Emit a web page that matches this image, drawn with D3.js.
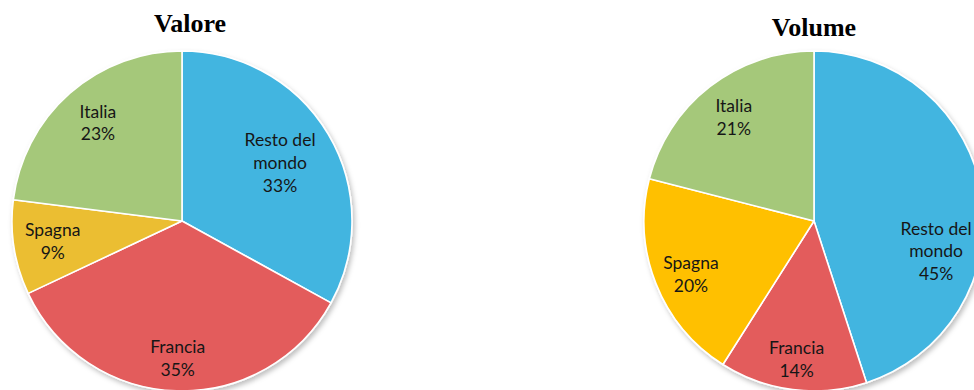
<!DOCTYPE html>
<html><head><meta charset="utf-8">
<script src="https://cdn.jsdelivr.net/npm/d3@7"></script>
<style>body{margin:0;background:#fff;}svg{display:block;}</style>
</head><body>
<svg id="chart" width="974" height="390"></svg>
<script>
// Data
const categories = ["Resto del mondo", "Francia", "Spagna", "Italia"];
const valoreValues = [33, 35, 9, 23];
const volumeValues = [45, 14, 20, 21];
const titles = ["Valore", "Volume"];

const colorsValore = ["#43B5E0", "#E35B5B", "#EBBE30", "#A5C87A"];
const colorsVolume = ["#43B5E0", "#E35B5B", "#FFC000", "#A5C87A"];

const svg = d3.select("#chart");
const defs = svg.append("defs");
const f = defs.append("filter").attr("id","sh").attr("x","-10%").attr("y","-10%").attr("width","130%").attr("height","130%");
f.append("feDropShadow").attr("dx",2).attr("dy",3).attr("stdDeviation",2.5).attr("flood-color","#000").attr("flood-opacity",0.25);

const R = 170;
const pies = [
  {cx:182, cy:221, values:valoreValues, colors:colorsValore, title:titles[0], tx:190, ty:32,
   lab:[{r:0.67,a:0},{r:0.81,a:0},{r:0.77,a:0},{r:0.76,a:0.8}]},
  {cx:814, cy:221, values:volumeValues, colors:colorsVolume, title:titles[1], tx:814, ty:36,
   lab:[{r:0.74,a:23},{r:0.82,a:0},{r:0.79,a:-2},{r:0.77,a:0}]}
];

const pie = d3.pie().sort(null).value(d => d);
const arc = d3.arc().innerRadius(0).outerRadius(R);

pies.forEach(p => {
  const g = svg.append("g").attr("transform", `translate(${p.cx},${p.cy})`);
  const arcs = pie(p.values);
  const sg = g.append("g").attr("filter","url(#sh)");
  sg.selectAll("path").data(arcs).enter().append("path")
    .attr("d", arc)
    .attr("fill", (d,i) => p.colors[i])
    .attr("stroke", "#fff").attr("stroke-width", 1.6).attr("stroke-linejoin","round");

  arcs.forEach((d,i) => {
    const mid = (d.startAngle + d.endAngle)/2 + p.lab[i].a*Math.PI/180;
    const rr = R * p.lab[i].r;
    const x = rr*Math.sin(mid), y = -rr*Math.cos(mid);
    const name = categories[i];
    let lines = name === "Resto del mondo" ? ["Resto del","mondo"] : [name];
    lines = lines.concat([p.values[i] + "%"]);
    const lh = 22.8;
    const t = g.append("text").attr("text-anchor","middle")
      .attr("font-family","Lato, 'Open Sans', sans-serif").attr("font-size",17.5)
      .attr("fill","#161616");
    lines.forEach((ln,k) => {
      t.append("tspan").attr("x", x)
       .attr("y", y + (k - (lines.length-1)/2)*lh + 6)
       .text(ln);
    });
  });

  svg.append("text").attr("x", p.tx).attr("y", p.ty).attr("text-anchor","middle")
    .attr("font-family","'Liberation Serif','Times New Roman',serif").attr("font-weight","bold")
    .attr("font-size",26).attr("fill","#000").text(p.title);
});
</script>
</body></html>
